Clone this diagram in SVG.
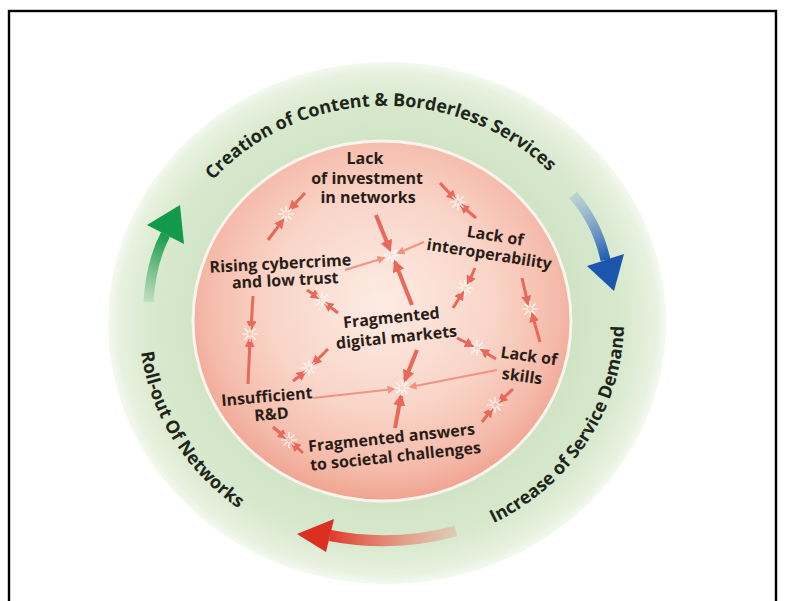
<svg xmlns="http://www.w3.org/2000/svg" width="785" height="601" viewBox="0 0 785 601">
<defs>
<style>
.node text{font-family:"Open Sans","Noto Sans","DejaVu Sans",sans-serif;font-weight:700;font-size:16px;fill:#2a1c17;text-anchor:middle}
.ring{font-family:"Open Sans","Noto Sans","DejaVu Sans",sans-serif;font-weight:700;font-size:18px;fill:#1e261b}
.c{fill:none;stroke:#e8685a}
.thick{stroke-width:4}
.mid{stroke-width:3}
.thin{stroke-width:2;stroke:#ee9484}
.ray{stroke:#fff;stroke-width:1.2;stroke-opacity:.9}
</style>
<radialGradient id="gOuter" cx="0.5" cy="0.5" r="0.5">
<stop offset="0.6" stop-color="#cde2c1"/>
<stop offset="0.85" stop-color="#d8e9ce"/>
<stop offset="0.96" stop-color="#e7f1df"/>
<stop offset="1" stop-color="#f4f9f0"/>
</radialGradient>
<radialGradient id="gPink" cx="0.5" cy="0.45" r="0.55">
<stop offset="0" stop-color="#fdece4"/>
<stop offset="0.55" stop-color="#f9d4c7"/>
<stop offset="0.85" stop-color="#f5baa9"/>
<stop offset="1" stop-color="#f0a390"/>
</radialGradient>
<linearGradient id="gGreen" gradientUnits="userSpaceOnUse" x1="148" y1="302" x2="166" y2="234">
<stop offset="0" stop-color="#2aa05a" stop-opacity="0.15"/>
<stop offset="1" stop-color="#139a48"/>
</linearGradient>
<linearGradient id="gBlue" gradientUnits="userSpaceOnUse" x1="573" y1="195" x2="605" y2="260">
<stop offset="0" stop-color="#7fa3d8" stop-opacity="0.3"/>
<stop offset="1" stop-color="#1e5bb5"/>
</linearGradient>
<linearGradient id="gRed" gradientUnits="userSpaceOnUse" x1="456" y1="531" x2="330" y2="536">
<stop offset="0" stop-color="#ef8a78" stop-opacity="0.3"/>
<stop offset="1" stop-color="#e03a2a"/>
</linearGradient>
<marker id="hL" viewBox="0 0 10 10" refX="8" refY="5" markerWidth="12" markerHeight="12" markerUnits="userSpaceOnUse" orient="auto"><path d="M0,0 L10,5 L0,10 z" fill="#e8685a"/></marker>
<marker id="hM" viewBox="0 0 10 10" refX="8" refY="5" markerWidth="10" markerHeight="10" markerUnits="userSpaceOnUse" orient="auto"><path d="M0,0 L10,5 L0,10 z" fill="#e8685a"/></marker>
<marker id="hS" viewBox="0 0 10 10" refX="8" refY="5" markerWidth="8" markerHeight="8" markerUnits="userSpaceOnUse" orient="auto"><path d="M0,0 L10,5 L0,10 z" fill="#ee9484"/></marker>
<g id="burst">
<path class="ray" d="M0,-2V-8M0,2V8M-2,0H-8M2,0H8M1.5,-1.5L5.5,-5.5M-1.5,1.5L-5.5,5.5M-1.5,-1.5L-5.5,-5.5M1.5,1.5L5.5,5.5"/>
</g>
<path id="pTop" d="M160.5,359.5 A228 216 0 1 1 611.3,348.3"/>
<path id="pLeft" d="M172.8,204.6 A246 232 0 0 0 383.3,554"/>
<path id="pRight" d="M379.6,547.9 A239 226 0 0 0 594.6,213.5"/>
</defs>

<rect x="9" y="11" width="767" height="595" fill="#fff" stroke="#000" stroke-width="2.4"/>

<g id="ring">
<ellipse cx="387" cy="323" rx="279" ry="261" fill="url(#gOuter)"/>
<ellipse cx="382" cy="321" rx="189" ry="180" fill="url(#gPink)" stroke="#fbf4ee" stroke-width="3"/>
</g>

<g id="cycle-labels">
<text class="ring"><textPath href="#pTop" startOffset="50%" text-anchor="middle">Creation of Content &amp; Borderless Services</textPath></text>
<text class="ring"><textPath href="#pLeft" startOffset="50%" text-anchor="middle">Roll-out Of Networks</textPath></text>
<text class="ring"><textPath href="#pRight" startOffset="50%" text-anchor="middle">Increase of Service Demand</textPath></text>
</g>

<g id="cycle-arrows">
<g id="arrow-green">
<path d="M148.5,302 Q151,262 165.5,234.5" fill="none" stroke="url(#gGreen)" stroke-width="10"/>
<polygon points="180,205 147,225 184,244" fill="#12994a"/>
</g>
<g id="arrow-blue">
<path d="M573,195 Q597,222 605.5,260" fill="none" stroke="url(#gBlue)" stroke-width="10"/>
<polygon points="587,266 624,254 614,291" fill="#1b55ad"/>
</g>
<g id="arrow-red">
<path d="M456,531 Q393,548 330,535.5" fill="none" stroke="url(#gRed)" stroke-width="11"/>
<polygon points="334,519 326,552 297,534" fill="#dd2e22"/>
</g>
</g>

<g id="connectors">
<line class="c thick" x1="376" y1="215" x2="390" y2="250" marker-end="url(#hL)"/>
<line class="c thin" x1="424" y1="242" x2="398" y2="253" marker-end="url(#hS)"/>
<line class="c thin" x1="345" y1="270" x2="384" y2="258" marker-end="url(#hS)"/>
<line class="c thick" x1="412" y1="305" x2="395" y2="262" marker-end="url(#hL)"/>
<line class="c thick" x1="417" y1="350" x2="405" y2="380" marker-end="url(#hL)"/>
<line class="c thin" x1="497" y1="370" x2="410" y2="387" marker-end="url(#hS)"/>
<line class="c thin" x1="313" y1="398" x2="394" y2="389" marker-end="url(#hS)"/>
<line class="c thick" x1="395" y1="428" x2="401" y2="396" marker-end="url(#hL)"/>
<line class="c mid" x1="305" y1="193" x2="290" y2="209" marker-end="url(#hM)"/>
<line class="c mid" x1="268" y1="240" x2="283" y2="220" marker-end="url(#hM)"/>
<line class="c mid" x1="440" y1="183" x2="455" y2="199" marker-end="url(#hM)"/>
<line class="c mid" x1="476" y1="218" x2="461" y2="205" marker-end="url(#hM)"/>
<line class="c mid" x1="475" y1="268" x2="468" y2="284" marker-end="url(#hM)"/>
<line class="c mid" x1="453" y1="308" x2="463" y2="292" marker-end="url(#hM)"/>
<line class="c mid" x1="522" y1="278" x2="528" y2="304" marker-end="url(#hM)"/>
<line class="c mid" x1="540" y1="342" x2="532" y2="314" marker-end="url(#hM)"/>
<line class="c mid" x1="307" y1="290" x2="319" y2="298" marker-end="url(#hM)"/>
<line class="c mid" x1="338" y1="313" x2="325" y2="303" marker-end="url(#hM)"/>
<line class="c mid" x1="457" y1="338" x2="473" y2="346" marker-end="url(#hM)"/>
<line class="c mid" x1="496" y1="359" x2="481" y2="350" marker-end="url(#hM)"/>
<line class="c mid" x1="328" y1="349" x2="313" y2="364" marker-end="url(#hM)"/>
<line class="c mid" x1="293" y1="381" x2="305" y2="372" marker-end="url(#hM)"/>
<line class="c mid" x1="253" y1="296" x2="251" y2="329" marker-end="url(#hM)"/>
<line class="c mid" x1="248" y1="384" x2="250" y2="339" marker-end="url(#hM)"/>
<line class="c mid" x1="273" y1="427" x2="286" y2="438" marker-end="url(#hM)"/>
<line class="c mid" x1="303" y1="453" x2="292" y2="443" marker-end="url(#hM)"/>
<line class="c mid" x1="513" y1="389" x2="499" y2="402" marker-end="url(#hM)"/>
<line class="c mid" x1="482" y1="422" x2="492" y2="409" marker-end="url(#hM)"/>
<use href="#burst" x="392" y="255"/>
<use href="#burst" x="402" y="388"/>
<use href="#burst" x="286" y="214"/>
<use href="#burst" x="458" y="202"/>
<use href="#burst" x="465" y="288"/>
<use href="#burst" x="530" y="309"/>
<use href="#burst" x="322" y="300"/>
<use href="#burst" x="477" y="348"/>
<use href="#burst" x="309" y="368"/>
<use href="#burst" x="250" y="334"/>
<use href="#burst" x="289" y="440"/>
<use href="#burst" x="495" y="405"/>
</g>

<g id="n-investment" class="node">
<text><tspan x="365" y="164">Lack</tspan><tspan x="367" y="184">of investment</tspan><tspan x="368" y="203">in networks</tspan></text>
</g>
<g id="n-cybercrime" class="node" transform="rotate(-3 282 276)">
<text><tspan x="281" y="269">Rising cybercrime</tspan><tspan x="285" y="286">and low trust</tspan></text>
</g>
<g id="n-interop" class="node" transform="rotate(9 492 250)">
<text><tspan x="493" y="241">Lack of</tspan><tspan x="490" y="260">interoperability</tspan></text>
</g>
<g id="n-markets" class="node" transform="rotate(-6 394 333)">
<text><tspan x="393" y="323">Fragmented</tspan><tspan x="396" y="343">digital markets</tspan></text>
</g>
<g id="n-skills" class="node" transform="rotate(8 525 370)">
<text><tspan x="527" y="361">Lack of</tspan><tspan x="523" y="382">skills</tspan></text>
</g>
<g id="n-rd" class="node" transform="rotate(-5 269 410)">
<text><tspan x="268" y="402">Insufficient</tspan><tspan x="271" y="420">R&amp;D</tspan></text>
</g>
<g id="n-societal" class="node" transform="rotate(-6 394 452)">
<text><tspan x="393" y="443">Fragmented answers</tspan><tspan x="395" y="462">to societal challenges</tspan></text>
</g>
</svg>
